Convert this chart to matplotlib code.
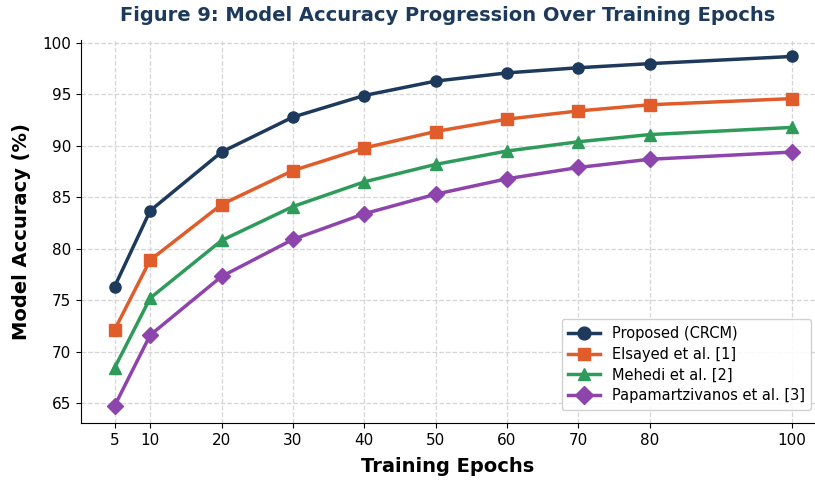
import matplotlib
matplotlib.use("Agg")
import matplotlib.pyplot as plt

epochs = [5, 10, 20, 30, 40, 50, 60, 70, 80, 100]
proposed = [76.3, 83.7, 89.4, 92.8, 94.9, 96.3, 97.1, 97.6, 98.0, 98.7]
elsayed = [72.1, 78.9, 84.3, 87.6, 89.8, 91.4, 92.6, 93.4, 94.0, 94.6]
mehedi = [68.4, 75.2, 80.8, 84.1, 86.5, 88.2, 89.5, 90.4, 91.1, 91.8]
papa = [64.7, 71.6, 77.3, 80.9, 83.4, 85.3, 86.8, 87.9, 88.7, 89.4]
labels = ["Proposed (CRCM)", "Elsayed et al. [1]", "Mehedi et al. [2]", "Papamartzivanos et al. [3]"]
colors = ["#1d3a5c", "#e05c2a", "#2e9b5a", "#8e44ad"]
markers = ["o", "s", "^", "D"]

fig = plt.figure(figsize=(8.15, 4.8), dpi=100)
ax = fig.add_axes([81/815, 1-423/480, (815-81)/815, (423-40)/480])
for ys, lab, c, m in zip([proposed, elsayed, mehedi, papa], labels, colors, markers):
    ax.plot(epochs, ys, color=c, marker=m, lw=2.5, ms=8, label=lab)

ax.set_xlim(0.3, 103.2)
ax.set_ylim(63.05, 100.3)
ax.set_xticks(epochs)
ax.set_yticks([65, 70, 75, 80, 85, 90, 95, 100])
ax.tick_params(labelsize=11)
ax.grid(True, ls="--", color="#cccccc", alpha=0.8, lw=0.9)
ax.spines["top"].set_visible(False)
ax.spines["right"].set_visible(False)
ax.set_xlabel("Training Epochs", fontsize=14, fontweight="bold", labelpad=7)
ax.set_ylabel("Model Accuracy (%)", fontsize=14, fontweight="bold", labelpad=8)
ax.set_title("Figure 9: Model Accuracy Progression Over Training Epochs", fontsize=14,
             fontweight="bold", color="#1d3a5c", pad=14)
ax.legend(loc="lower right", bbox_to_anchor=(1.005, 0.015), fontsize=10.5, framealpha=0.9,
          markerscale=1.15, handlelength=2.2, borderpad=0.45, labelspacing=0.4)
fig.savefig("out.png", dpi=100)
